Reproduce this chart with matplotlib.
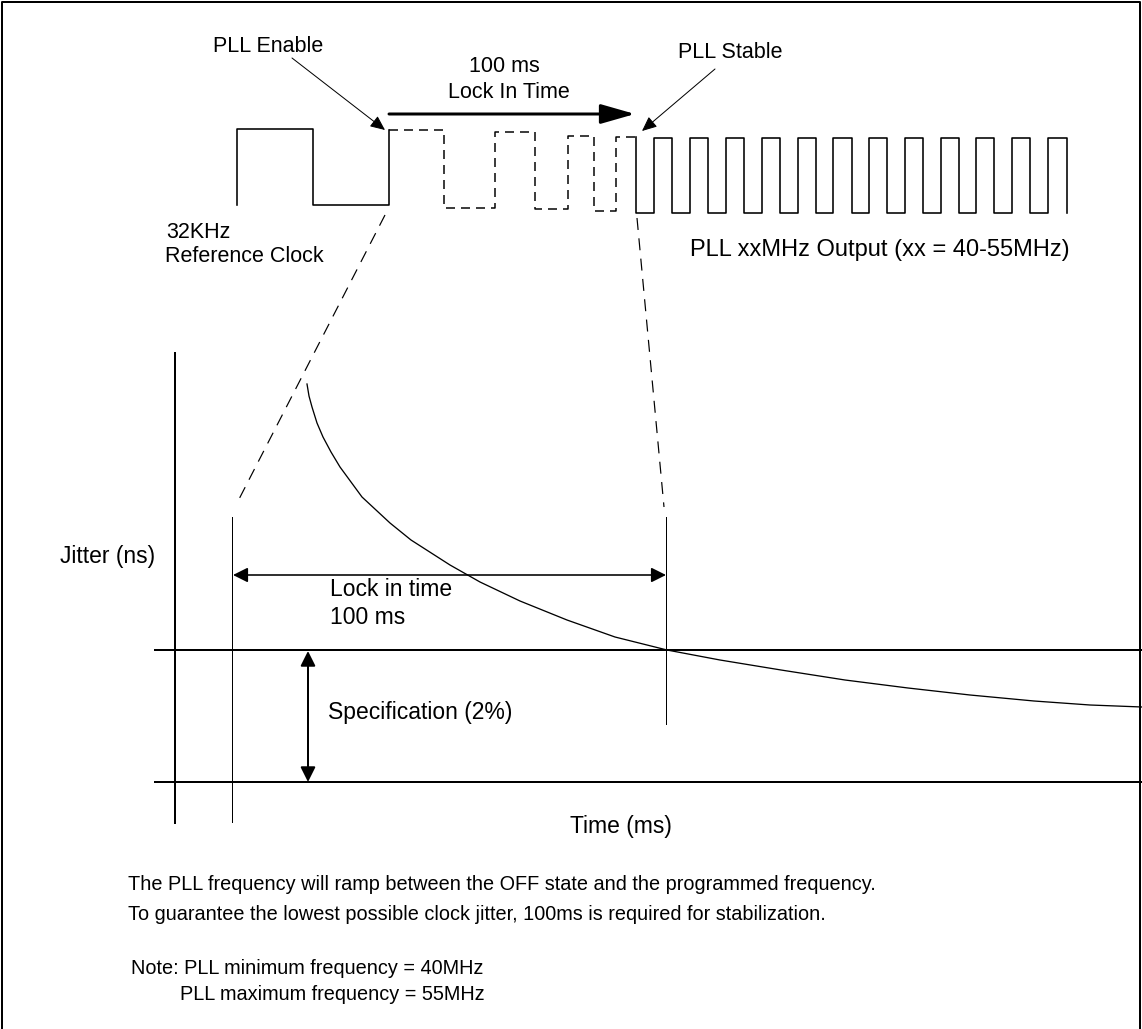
import numpy as np
import matplotlib
matplotlib.use('Agg')
import matplotlib.pyplot as plt
from matplotlib.patches import FancyArrowPatch

plt.rcParams['font.family'] = ['Liberation Sans', 'DejaVu Sans']

W, H = 1142, 1029

# 32 kHz reference clock (pixel coordinates)
ref_x = [237, 237, 313, 313, 389, 389]
ref_y = [205, 129, 129, 205, 205, 130]

# ramping (dashed) part while the PLL locks
ramp_x = [389, 444, 444, 495, 495, 535, 535, 568, 568, 594, 594, 616, 616, 636]
ramp_y = [130, 130, 208, 208, 132, 132, 209, 209, 136, 136, 211, 211, 137, 137]

# stable PLL output: rising / falling edges
rise_x = [654, 690, 726, 762, 798, 833, 869, 905, 941, 976, 1012, 1048]
fall_x = [672, 708, 744, 780, 816, 852, 887, 923, 959, 994, 1030, 1067]
out_hi, out_lo = 138, 213

# jitter decay curve
jit_x = [307, 309, 312, 317, 323, 331, 340, 362, 390, 411, 450, 480, 520,
         567, 615, 667, 720, 781, 845, 908, 970, 1034, 1090, 1142]
jit_y = [384, 396, 407, 423, 437, 452, 467, 497, 523, 540, 565, 582, 601,
         620, 637, 650, 660, 670, 680, 688, 695, 701, 705, 707]

fs_top = 15.5
fs = 16.5
fs_note = 14.3

fig = plt.figure(figsize=(W / 100, H / 100), dpi=100)
ax = fig.add_axes([0, 0, 1, 1])
ax.set_xlim(0, W)
ax.set_ylim(H, 0)
ax.axis('off')

px = 72 / 100  # one pixel in points

# frame
ax.plot([2, 2, W - 2, W - 2], [H, 2, 2, H], color='black', lw=2 * px)

# waveforms
ax.plot(ref_x, ref_y, color='black', lw=1.6 * px)
ax.plot(ramp_x, ramp_y, color='black', lw=1.5 * px, dashes=(6, 4))

sx, sy = [636, 636], [137, out_lo]
for r, f in zip(rise_x, fall_x):
    sx += [r, r, f, f]
    sy += [out_lo, out_hi, out_hi, out_lo]
ax.plot(sx, sy, color='black', lw=1.6 * px)

# zoom lines
ax.plot([385, 236], [215, 505], color='black', lw=1.2 * px, dashes=(10, 7))
ax.plot([637, 664], [218, 507], color='black', lw=1.2 * px, dashes=(10, 7))

# jitter plot axes and markers
ax.plot([175, 175], [353, 823], color='black', lw=2 * px)
ax.plot([232, 232], [517, 822], color='black', lw=1 * px)
ax.plot([666, 666], [517, 724], color='black', lw=1 * px)
ax.plot([155, W], [650, 650], color='black', lw=2 * px)
ax.plot([155, W], [782, 782], color='black', lw=2 * px)
ax.plot(jit_x, jit_y, color='black', lw=1.3 * px)


def arrow(p0, p1, style, lw):
    a = FancyArrowPatch(p0, p1, arrowstyle=style, color='black', lw=lw,
                        shrinkA=0, shrinkB=0, mutation_scale=1)
    ax.add_patch(a)


arrow((233, 575), (666, 575), '<|-|>,head_length=9,head_width=4.5', 1.6 * px)
arrow((308, 651), (308, 782), '<|-|>,head_length=9,head_width=4.5', 2 * px)
arrow((389, 114), (635, 114), '-|>,head_length=21,head_width=6', 3 * px)
arrow((292, 58), (385, 130), '-|>,head_length=9,head_width=4', 1 * px)
arrow((715, 69), (642, 131), '-|>,head_length=9,head_width=4', 1 * px)

# labels
ax.text(268, 46, 'PLL Enable', fontsize=fs_top, ha='center', va='center')
ax.text(504, 67, '100 ms', fontsize=fs_top, ha='center', va='center')
ax.text(509, 93, 'Lock In Time', fontsize=fs_top, ha='center', va='center')
ax.text(730, 52, 'PLL Stable', fontsize=fs_top, ha='center', va='center')
ax.text(166, 232, '32KHz', fontsize=fs_top, ha='left', va='center')
ax.text(165, 257, 'Reference Clock', fontsize=fs_top, ha='left', va='center')
ax.text(690, 250, 'PLL xxMHz Output (xx = 40-55MHz)', fontsize=17,
        ha='left', va='center')
ax.text(155, 557, 'Jitter (ns)', fontsize=fs, ha='right', va='center')
ax.text(330, 590, 'Lock in time', fontsize=fs, ha='left', va='center')
ax.text(330, 617, '100 ms', fontsize=fs, ha='left', va='center')
ax.text(328, 713, 'Specification (2%)', fontsize=fs, ha='left', va='center')
ax.text(621, 826, 'Time (ms)', fontsize=fs, ha='center', va='center')

ax.text(128, 884, 'The PLL frequency will ramp between the OFF state and the '
        'programmed frequency.', fontsize=fs_note, ha='left', va='center')
ax.text(128, 915, 'To guarantee the lowest possible clock jitter, 100ms is '
        'required for stabilization.', fontsize=fs_note, ha='left', va='center')
ax.text(131, 968, 'Note: PLL minimum frequency = 40MHz', fontsize=fs_note,
        ha='left', va='center')
ax.text(180, 994, 'PLL maximum frequency = 55MHz', fontsize=fs_note,
        ha='left', va='center')

fig.savefig('out.png', dpi=100)
